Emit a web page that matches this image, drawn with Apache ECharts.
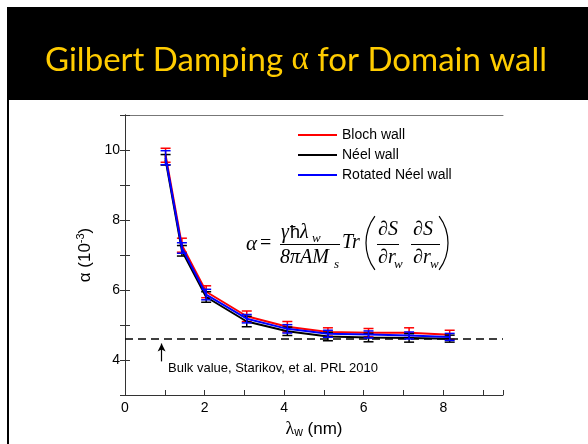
<!DOCTYPE html>
<html>
<head>
<meta charset="utf-8">
<script src="https://cdn.jsdelivr.net/npm/echarts@6/dist/echarts.min.js"></script>
<style>
  html, body { margin: 0; padding: 0; background: #fff; }
  #chart { width: 588px; height: 444px; }
</style>
</head>
<body>
<div id="chart"></div>
<script>
// domain wall width (nm)
const lambda = [1.02, 1.43, 2.04, 3.06, 4.08, 5.10, 6.12, 7.14, 8.16];

// damping alpha (10^-3) and error bars
const blochAlpha   = [9.85, 7.28, 5.95, 5.25, 4.95, 4.80, 4.78, 4.78, 4.72];
const neelAlpha    = [9.72, 7.12, 5.80, 5.10, 4.82, 4.67, 4.64, 4.63, 4.61];
const rotatedAlpha = [9.78, 7.20, 5.87, 5.18, 4.89, 4.75, 4.73, 4.70, 4.66];
const blochErr   = [0.20, 0.20, 0.17, 0.15, 0.15, 0.12, 0.12, 0.14, 0.13];
const neelErr    = [0.15, 0.15, 0.15, 0.15, 0.12, 0.12, 0.12, 0.12, 0.10];
const rotatedErr = [0.20, 0.15, 0.15, 0.12, 0.12, 0.10, 0.10, 0.10, 0.10];

// bulk value reference
const bulkAlpha = 4.6;
const bulkArrowX = 0.92;
const bulkArrowY = [3.96, 4.47];

const xTicks = [0, 2, 4, 6, 8];
const yTicks = [4, 6, 8, 10];

const seriesNames = ['Bloch wall', 'Néel wall', 'Rotated Néel wall'];
const seriesColors = ['#ff0000', '#000000', '#0000ff'];

const chart = echarts.init(document.getElementById('chart'));

function pairs(ys) {
    return lambda.map((x, i) => [x, ys[i]]);
}

function errorBars(name, color, ys, errs, z) {
    return {
        type: 'custom',
        name: name,
        z: z,
        silent: true,
        data: lambda.map((x, i) => [x, ys[i] - errs[i], ys[i] + errs[i]]),
        encode: { x: 0, y: [1, 2] },
        renderItem: function (params, api) {
            const lo = api.coord([api.value(0), api.value(1)]);
            const hi = api.coord([api.value(0), api.value(2)]);
            const hw = 5;
            const st = { stroke: color, lineWidth: 1.5 };
            return {
                type: 'group',
                children: [
                    { type: 'line', shape: { x1: lo[0], y1: lo[1], x2: hi[0], y2: hi[1] }, style: st },
                    { type: 'line', shape: { x1: lo[0] - hw, y1: lo[1], x2: lo[0] + hw, y2: lo[1] }, style: st },
                    { type: 'line', shape: { x1: hi[0] - hw, y1: hi[1], x2: hi[0] + hw, y2: hi[1] }, style: st }
                ]
            };
        }
    };
}

function lineSeries(idx, ys, z, extra) {
    return Object.assign({
        type: 'line',
        name: seriesNames[idx],
        data: pairs(ys),
        symbol: 'none',
        z: z,
        lineStyle: { color: seriesColors[idx], width: 2 },
        itemStyle: { color: seriesColors[idx] }
    }, extra || {});
}

const evenLabel = v => (xTicks.concat(yTicks).indexOf(v) >= 0 ? String(v) : '');
const axisColor = '#333';

const serif = 'Liberation Serif';
const fTxt = (text, x, y, size, italic, align) => ({
    type: 'text',
    style: {
        text: text, x: x, y: y,
        font: (italic ? 'italic ' : '') + size + 'px "' + serif + '"',
        fill: '#000',
        textAlign: align || 'left',
        textVerticalAlign: 'middle'
    }
});
const bar = (x1, x2, y) => ({
    type: 'line',
    shape: { x1: x1, y1: y, x2: x2, y2: y },
    style: { stroke: '#000', lineWidth: 1 }
});

const formula = [
    fTxt('α', 246, 244, 21, true),
    fTxt('=', 260, 244, 20, false),
    bar(280, 340, 244.5),
    fTxt('γ', 281, 233, 20, true),
    { type: 'text', style: { text: 'ħ', x: 290, y: 233, font: '18px "Liberation Sans"', fill: '#000', textVerticalAlign: 'middle' } },
    fTxt('λ', 300, 233, 20, true),
    fTxt('w', 312, 239, 13, true),
    fTxt('8πAM', 280, 258, 20, true),
    fTxt('s', 334, 265, 13, true),
    fTxt('Tr', 342, 243, 20, true),
    { type: 'arc', shape: { cx: 411, cy: 243, r: 45, startAngle: Math.PI - 0.64, endAngle: Math.PI + 0.64 }, style: { stroke: '#000', lineWidth: 1.2, fill: null } },
    fTxt('∂S', 378, 230, 20, true),
    bar(377, 399, 244.5),
    fTxt('∂r', 378, 258, 20, true),
    fTxt('w', 394, 265, 13, true),
    fTxt('∂S', 413, 230, 20, true),
    bar(411, 440, 244.5),
    fTxt('∂r', 413, 258, 20, true),
    fTxt('w', 430, 265, 13, true),
    { type: 'arc', shape: { cx: 403, cy: 243, r: 45, startAngle: -0.64, endAngle: 0.64 }, style: { stroke: '#000', lineWidth: 1.2, fill: null } }
];

const option = {
    animation: false,
    backgroundColor: '#fff',
    textStyle: { fontFamily: 'Liberation Sans' },
    graphic: [
        { type: 'rect', shape: { x: 7, y: 7, width: 581, height: 93 }, style: { fill: '#000' }, z: -10 },
        { type: 'rect', shape: { x: 7, y: 100, width: 2, height: 344 }, style: { fill: '#000' }, z: -10 },
        {
            type: 'text',
            style: {
                text: 'Gilbert Damping {a|α} for Domain wall',
                x: 296, y: 60,
                textAlign: 'center', textVerticalAlign: 'middle',
                font: '33px Lato',
                fill: '#ffcc00',
                rich: { a: { fontFamily: serif, fontSize: 33, fill: '#ffcc00' } }
            }
        },
        {
            type: 'text',
            style: {
                text: 'Bulk value, Starikov, et al. PRL 2010',
                x: 168, y: 368,
                textVerticalAlign: 'middle',
                font: '13px "Liberation Sans"',
                fill: '#000'
            }
        },
        { type: 'group', children: formula }
    ],
    grid: { left: 125, top: 115, right: 85, bottom: 48 },
    legend: {
        orient: 'vertical',
        left: 293, top: 122,
        icon: 'rect',
        itemWidth: 39, itemHeight: 2, itemGap: 4,
        data: seriesNames,
        textStyle: { fontSize: 14, color: '#000', lineHeight: 16, padding: [0, 0, 0, 0] }
    },
    xAxis: [{
        type: 'value', min: 0, max: 9.5, interval: 1,
        name: '{l|λ}{s|w} (nm)', nameLocation: 'middle', nameGap: 24,
        nameTextStyle: {
            fontSize: 17, color: '#000',
            rich: { l: { fontSize: 18, fontFamily: serif }, s: { fontSize: 12, verticalAlign: 'bottom', padding: [8, 0, 0, 0] } }
        },
        axisLine: { lineStyle: { color: axisColor } },
        axisTick: { inside: true, length: 5, lineStyle: { color: axisColor } },
        axisLabel: { formatter: evenLabel, fontSize: 14, color: '#000', margin: 6 },
        splitLine: { show: false }
    }, {
        type: 'value', position: 'top', min: 0, max: 9.5, interval: 1,
        axisLine: { show: true, lineStyle: { color: '#777' } },
        axisTick: { show: false },
        axisLabel: { show: false },
        splitLine: { show: false }
    }],
    yAxis: [{
        type: 'value', min: 3, max: 11, interval: 1,
        name: 'α (10{sup|-3})', nameLocation: 'middle', nameGap: 29,
        nameTextStyle: {
            fontSize: 17, color: '#000',
            rich: { sup: { fontSize: 11, verticalAlign: 'top', padding: [0, 0, 8, 0] } }
        },
        axisLine: { show: true, lineStyle: { color: axisColor } },
        axisTick: { inside: true, length: 5, lineStyle: { color: axisColor } },
        axisLabel: { formatter: evenLabel, fontSize: 14, color: '#000', margin: 5 },
        splitLine: { show: false }
    }, {
        type: 'value', position: 'right', min: 3, max: 11, interval: 1,
        axisLine: { show: true, lineStyle: { color: axisColor } },
        axisTick: { inside: true, length: 5, lineStyle: { color: axisColor } },
        axisLabel: { show: false },
        splitLine: { show: false }
    }],
    series: [
        lineSeries(0, blochAlpha, 3, {
            markLine: {
                silent: true,
                symbol: ['none', 'arrow'], symbolSize: [6, 8],
                label: { show: false },
                lineStyle: { color: '#000', width: 1.2, type: 'solid' },
                data: [[{ coord: [bulkArrowX, bulkArrowY[0]] }, { coord: [bulkArrowX, bulkArrowY[1]] }]]
            }
        }),
        lineSeries(1, neelAlpha, 4, {
            markLine: {
                silent: true,
                symbol: 'none',
                label: { show: false },
                lineStyle: { color: '#000', width: 1.5, type: [8, 5] },
                data: [{ yAxis: bulkAlpha }]
            }
        }),
        lineSeries(2, rotatedAlpha, 5),
        errorBars('Bloch wall', seriesColors[0], blochAlpha, blochErr, 3),
        errorBars('Néel wall', seriesColors[1], neelAlpha, neelErr, 4),
        errorBars('Rotated Néel wall', seriesColors[2], rotatedAlpha, rotatedErr, 5)
    ]
};

chart.setOption(option);
</script>
</body>
</html>
